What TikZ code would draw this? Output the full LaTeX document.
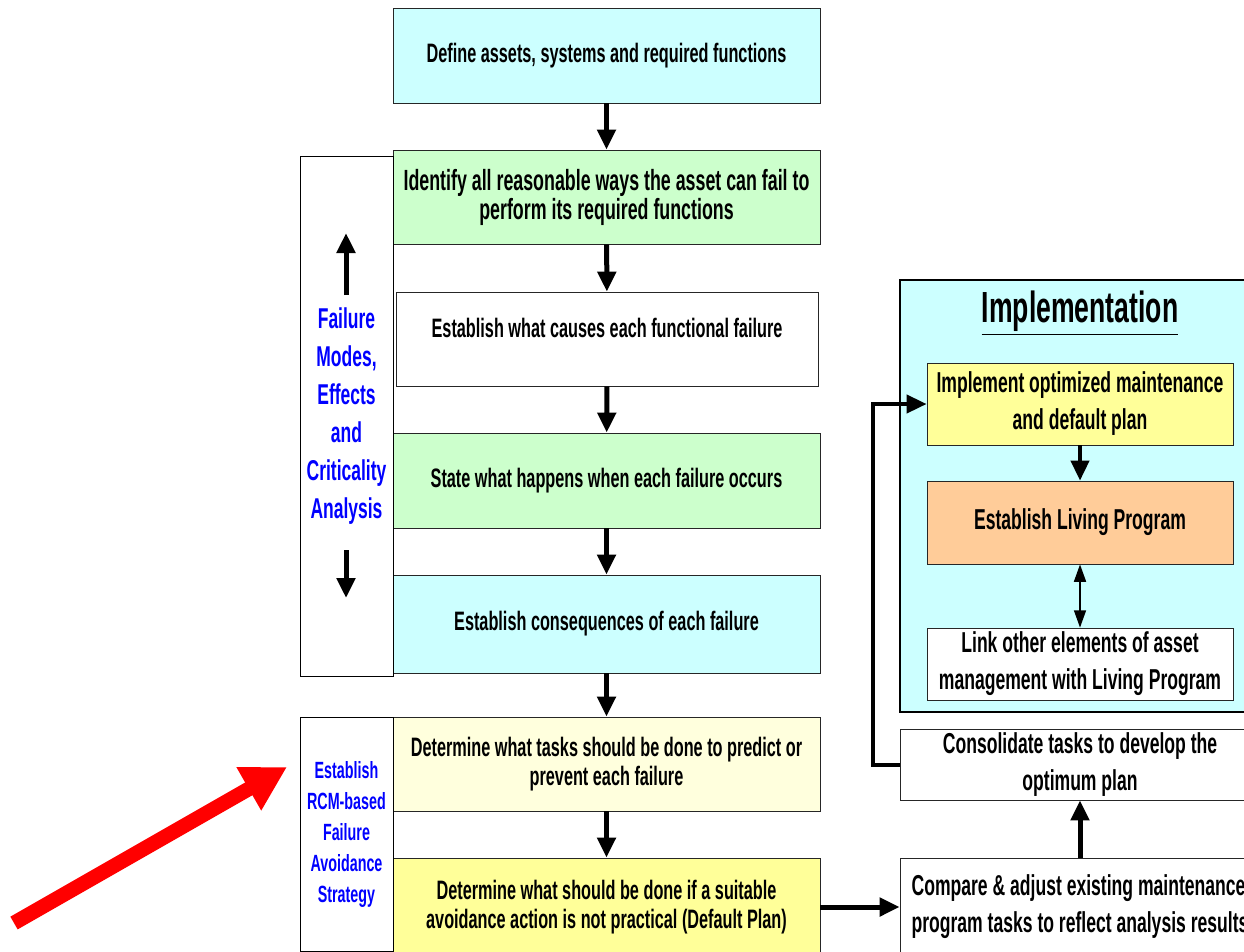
\documentclass[tikz,border=0pt]{standalone}
\usepackage{fontspec}
\setmainfont{Liberation Sans}[FakeStretch=0.61]
\usetikzlibrary{arrows.meta}

\definecolor{cyanbox}{HTML}{CCFFFF}
\definecolor{greenbox}{HTML}{CCFFCC}
\definecolor{paleyellow}{HTML}{FFFFDD}
\definecolor{yellowbox}{HTML}{FFFF99}
\definecolor{orangebox}{HTML}{FFCC99}

\newcommand{\boxfont}{\bfseries\fontsize{20}{21.75}\selectfont}
\newcommand{\bigboxfont}{\bfseries\fontsize{21.9}{21.75}\selectfont}
\newcommand{\sidefont}{\bfseries\fontsize{21.5}{28.5}\selectfont}
\newcommand{\rcmfont}{\bfseries\fontsize{17.6}{23.25}\selectfont}
\newcommand{\implfont}{\bfseries\fontsize{21.6}{27.75}\selectfont}

\tikzset{
  stepbox/.style={draw=black!85, line width=0.6pt, inner sep=0pt, align=center, font=\boxfont,
    minimum width=320.25pt, minimum height=71.25pt},
  sidebox/.style={draw=black, line width=0.6pt, inner sep=0pt, align=center, fill=white, text=blue,
    minimum width=69.75pt},
  implbox/.style={stepbox, font=\implfont, minimum width=229.5pt},
  flow/.style={line width=3.75pt, -{Triangle[length=15pt,width=13.5pt]}},
  twoway/.style={line width=1.2pt, {Triangle[length=13pt,width=9pt]}-{Triangle[length=13pt,width=9pt]}},
  bigarrow/.style={draw=red, line width=11pt, -{Triangle[length=33pt,width=35pt]}, red}
}

\begin{document}
\begin{tikzpicture}[x=0.75pt,y=0.75pt,yscale=-1,xscale=1]
\useasboundingbox (0,0) rectangle (1244,951);
\clip (0,0) rectangle (1244,951);

% main column
\node[stepbox, fill=cyanbox] (define) at (606.5,55.5) {Define assets, systems and required functions};
\node[stepbox, fill=greenbox, font=\bigboxfont, minimum height=70.5pt] (identify) at (606.5,197) {Identify all reasonable ways the asset can fail to\\perform its required functions};
\node[stepbox, fill=white, minimum width=316.5pt, minimum height=70.5pt, text depth=17pt] (causes) at (607,339) {Establish what causes each functional failure};
\node[stepbox, fill=greenbox] (happens) at (606.5,480.5) {State what happens when each failure occurs};
\node[stepbox, fill=cyanbox, minimum height=73.5pt] (conseq) at (606.5,624) {Establish consequences of each failure};
\node[stepbox, fill=paleyellow, minimum height=70.5pt] (tasks) at (606.5,764) {Determine what tasks should be done to predict or\\prevent each failure};
\node[stepbox, fill=yellowbox, minimum height=73.5pt] (default) at (606.5,907) {Determine what should be done if a suitable\\avoidance action is not practical (Default Plan)};

% side boxes
\node[sidebox, font=\sidefont, minimum height=390pt] (fmeca) at (346.5,416) {Failure\\Modes,\\Effects\\and\\Criticality\\Analysis};
\node[sidebox, font=\rcmfont, minimum height=175.5pt] (rcm) at (346.5,834) {Establish\\RCM-based\\Failure\\Avoidance\\Strategy};
\coordinate (upfrom) at (346,295);
\coordinate (upto) at (346,233);
\coordinate (downfrom) at (346,550);
\coordinate (downto) at (346,598);
\draw[flow] (upfrom) -- (upto);
\draw[flow] (downfrom) -- (downto);

% implementation
\node[draw=black, line width=0.9pt, fill=cyanbox, inner sep=0pt, minimum width=270pt, minimum height=324pt] (implarea) at (1080,496) {};
\node[font=\bfseries\fontsize{32.7}{36}\selectfont, inner sep=0pt] (impltitle) at (1080,313) {\underline{Implementation}};
\node[implbox, fill=yellowbox, minimum height=61.5pt] (implement) at (1080,404) {Implement optimized maintenance\\and default plan};
\node[implbox, fill=orangebox, minimum height=62.25pt] (living) at (1080,522.5) {Establish Living Program};
\node[implbox, fill=white, minimum height=54pt] (link) at (1080,664) {Link other elements of asset\\management with Living Program};

\node[implbox, fill=white, minimum width=270pt, minimum height=53.25pt] (consol) at (1080,764.5) {Consolidate tasks to develop the\\optimum plan};
\node[implbox, fill=white, align=left, minimum width=270pt, minimum height=73.5pt] (compare) at (1080,907) {Compare \& adjust existing maintenance\\program tasks to reflect analysis results};

% connectors
\draw[flow] (define) -- (identify);
\draw[flow] (identify) -- (causes);
\draw[flow] (causes) -- (happens);
\draw[flow] (happens) -- (conseq);
\draw[flow] (conseq) -- (tasks);
\draw[flow] (tasks) -- (default);
\draw[flow] (default) -- (compare);
\draw[flow] (compare) -- (consol);
\draw[flow, line width=3pt] (consol.west) -- ++(-27,0) |- (implement.west);
\draw[flow, line width=3pt] (implement) -- (living);
\draw[twoway] (living) -- (link);

% pointer
\coordinate (redtail) at (14,923);
\coordinate (redtip) at (287,767);
\draw[bigarrow] (redtail) -- (redtip);

\end{tikzpicture}
\end{document}
